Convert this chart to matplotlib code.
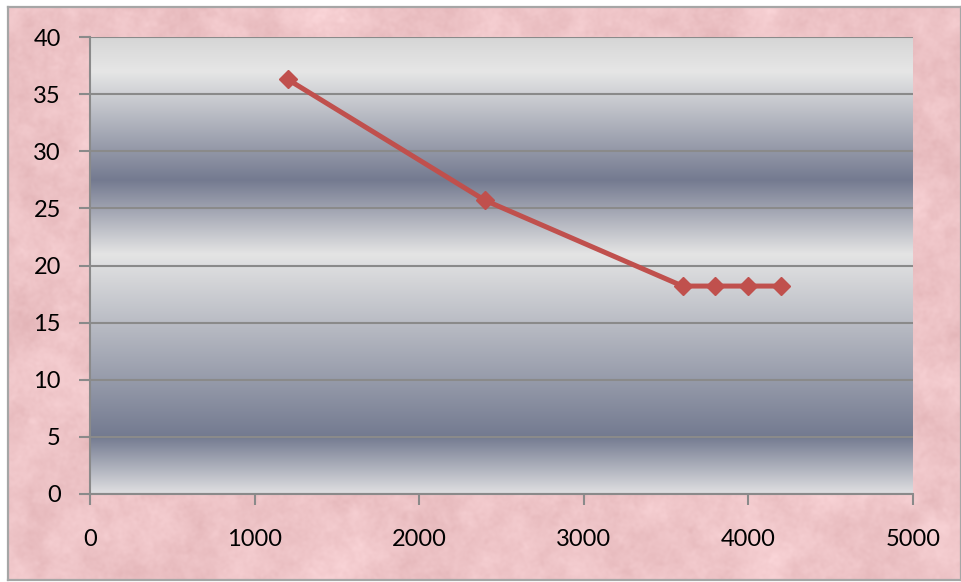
import numpy as np
import matplotlib
matplotlib.use("Agg")
import matplotlib.pyplot as plt
from matplotlib.colors import to_rgb

# Series data
x_values = [1200, 2400, 3600, 3800, 4000, 4200]
y_values = [36.3, 25.7, 18.2, 18.2, 18.2, 18.2]

x_ticks = [0, 1000, 2000, 3000, 4000, 5000]
y_ticks = [0, 5, 10, 15, 20, 25, 30, 35, 40]

W, H = 961, 582
fig = plt.figure(figsize=(W / 100, H / 100), dpi=100, facecolor="white")

# ---- pink marble backdrop ----
rng = np.random.default_rng(7)


def smooth_noise(h, w, scale):
    n = rng.standard_normal((h, w))
    fy = np.fft.fftfreq(h)[:, None]
    fx = np.fft.fftfreq(w)[None, :]
    kern = np.exp(-((fx ** 2 + fy ** 2) * (scale ** 2) * 2 * np.pi ** 2))
    out = np.real(np.fft.ifft2(np.fft.fft2(n) * kern))
    return out / (out.std() + 1e-9)


th, tw = 573, 953
tex = (0.5 * smooth_noise(th, tw, 16) + 0.35 * smooth_noise(th, tw, 5)
       + 0.2 * smooth_noise(th, tw, 1.5))
base = np.array([238, 196, 199]) / 255.0
img = base[None, None, :] + tex[..., None] * np.array([5, 7, 7])[None, None, :] / 255.0
img = np.clip(img, 0, 1)

bg = fig.add_axes([8 / W, 2 / H, (W - 8) / W, (H - 9) / H])
bg.imshow(img, aspect="auto", interpolation="bilinear")
bg.set_xticks([])
bg.set_yticks([])
for s in bg.spines.values():
    s.set_color("#a6a6a6")
    s.set_linewidth(1.6)

# ---- plot area ----
left, right, top, bottom = 90, 913, 37, 494
ax = fig.add_axes([left / W, (H - bottom) / H, (right - left) / W, (bottom - top) / H])
ax.set_xlim(0, 5000)
ax.set_ylim(0, 40)

# banded vertical gradient fill
stops_y = [0, 5, 21, 27.5, 37, 40]
stops_c = ["#e0e0e2", "#737a90", "#e4e4e4", "#747a90", "#e6e6e6", "#d6d6d6"]
yy = np.linspace(0, 40, 600)
cols = np.array([to_rgb(c) for c in stops_c])
grad = np.stack([np.interp(yy, stops_y, cols[:, k]) for k in range(3)], axis=-1)
ax.imshow(grad[:, None, :], extent=[0, 5000, 0, 40], origin="lower",
          aspect="auto", interpolation="bilinear", zorder=0)

ax.set_xticks(x_ticks)
ax.set_yticks(y_ticks)
ax.yaxis.grid(True, color="#8a8a8a", linewidth=1.5, zorder=1)
ax.set_axisbelow(True)

for name, s in ax.spines.items():
    if name in ("left", "bottom"):
        s.set_color("#8a8a8a")
        s.set_linewidth(1.5)
    else:
        s.set_visible(False)

ax.tick_params(axis="both", which="major", length=8, width=1.5, color="#8a8a8a",
               labelsize=17, labelcolor="black", direction="out")
ax.tick_params(axis="y", pad=13)
ax.tick_params(axis="x", pad=17)
for lab in ax.get_xticklabels() + ax.get_yticklabels():
    lab.set_family(["Lato", "DejaVu Sans"])

ax.plot(x_values, y_values, color="#c0504d", linewidth=3.6, marker="D",
        markersize=9.5, markerfacecolor="#c0504d", markeredgecolor="#c0504d",
        zorder=3, clip_on=False)

fig.savefig("out.png", dpi=100, facecolor="white")
